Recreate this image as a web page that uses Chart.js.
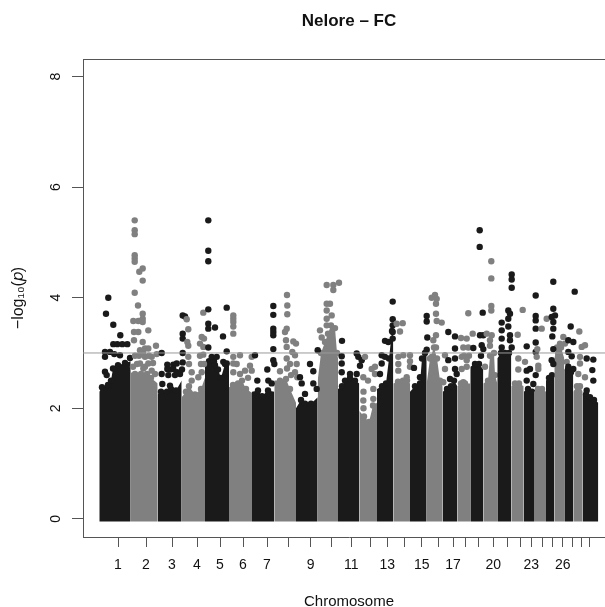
<!DOCTYPE html>
<html>
<head>
<meta charset="utf-8">
<title>Nelore - FC</title>
<script src="https://cdn.jsdelivr.net/npm/chart.js@4"></script>
<style>
html, body { margin: 0; padding: 0; background: #fff; overflow: hidden; }
canvas { display: block; }
</style>
</head>
<body>
<!-- the plot box runs past the right edge of the picture, so the canvas does too -->
<canvas id="manhattan" width="698" height="607"></canvas>
<script>
// x = position along the genome (axis units), y = -log10(p)
// bodyN = top edge of the solid mass of points of chromosome N, hitsN = the points standing above it
const body1 = [[16.3,2.3],[19,2.38],[25,2.42],[28,2.5],[30,2.72],[35,2.78],[42,2.82],[47.7,2.85]];
const hits1 = [[25.3,4],[23,3.71],[30.3,3.51],[37.3,3.32],[30.3,3.16],[34.3,3.16],[39.3,3.16],[44.3,3.16],[22,3.02],[27,3.02],[31.3,2.98],[22,2.93],[37,2.96],[22,2.66],[23.7,2.6],[47,2.91]];
const body2 = [[47.7,2.65],[52,2.62],[58,2.62],[64,2.62],[68,2.55],[74.7,2.45]];
const hits2 = [[51.7,5.4],[51.7,5.22],[51.7,5.15],[51.7,4.77],[51.7,4.71],[51.7,4.65],[59.7,4.53],[56.3,4.47],[59.7,4.31],[51.7,4.09],[55,3.86],[59.7,3.71],[59.7,3.62],[50.3,3.58],[55.3,3.58],[59.7,3.56],[65.3,3.41],[51,3.38],[55.3,3.38],[51,3.23],[59.7,3.2],[73,3.13],[57,3.05],[65.3,3.08],[62,2.93],[68.7,2.93],[73.7,2.98],[57,2.81],[65.3,2.81],[60.3,2.72],[68.7,2.68],[60,3],[52,2.95],[62,2.75],[54,2.8],[50,2.75],[56,2.95],[62,3.08],[70,2.82],[72,2.62],[66,2.95]];
const body3 = [[74.7,2.25],[78,2.3],[84,2.3],[88,2.35],[93,2.32],[98.7,2.5]];
const hits3 = [[78.7,3],[84.3,2.79],[90.3,2.79],[93.7,2.81],[84.3,2.71],[90.3,2.71],[78.7,2.62],[85.3,2.6],[92,2.6],[97,2.62],[79.3,2.44],[87,2.41],[99.7,3.68],[99.7,3.35],[99.7,3.26],[99.7,3],[99.7,2.83],[102,3.66],[87,2.7],[94,2.65],[99,2.7]];
const body4 = [[98.7,2.2],[103,2.3],[106,2.4],[112,2.25],[118,2.35],[122,2.55]];
const hits4 = [[103.7,3.61],[105.3,3.43],[104.3,3.2],[105.3,3.13],[118.7,3.29],[121,3.26],[117,3.17],[120.3,3.11],[117,2.95],[120.3,2.97],[105.3,2.93],[108.7,2.65],[118.7,2.65],[115.3,2.56],[108.7,2.5],[120.3,3.73],[106,2.8],[121,2.8],[118,2.8]];
const body5 = [[122,2.85],[126,2.85],[131,2.85],[135,2.7],[138,2.55],[142,2.8],[146,2.85]];
const hits5 = [[125.3,5.4],[125.3,4.85],[125.3,4.66],[125.3,3.79],[125.3,3.53],[125.3,3.44],[132,3.46],[143.7,3.82],[140,3.3],[125.3,3.1],[143.7,3.03],[128.7,2.93],[133.7,2.93],[140.3,2.84],[132,2.78],[143.7,2.81]];
const body6 = [[146,2.38],[150,2.42],[155,2.45],[159,2.5],[163,2.35],[169,2.28]];
const hits6 = [[150.3,3.68],[150.3,3.62],[150.3,3.56],[150.3,3.48],[150.3,3.35],[150.3,2.93],[150.3,2.81],[157,2.96],[168.7,2.93],[167,2.77],[168.7,2.68],[157,2.62],[153.7,2.8],[162,2.68],[150.3,2.65],[165,2.55]];
const body7 = [[169,2.3],[175,2.32],[179,2.22],[185,2.32],[191.3,2.3]];
const hits7 = [[190.3,3.85],[190.3,3.69],[190.3,3.44],[190.3,3.38],[190.3,3.32],[190.3,3.07],[190.3,2.87],[191.3,2.8],[184.3,2.7],[174.3,2.5],[185.3,2.5],[188.7,2.45],[172,2.96]];
const body8 = [[191.3,2.5],[197,2.5],[203,2.53],[207,2.35],[213,2.1]];
const hits8 = [[204,4.05],[204.3,3.86],[204.3,3.7],[203.7,3.44],[202,3.38],[203,3.23],[203.7,3.11],[210.3,3.21],[213,3.17],[209.3,3.02],[212,2.96],[203.7,2.9],[207,2.8],[197,2.67],[213.7,2.8],[212,2.65],[214.3,2.56],[204,2.72],[208,2.6]];
const body9 = [[213,2],[218,2.15],[222,2.08],[228,2.08],[234.7,2.2]];
const hits9 = [[227,2.8],[230.3,2.67],[217,2.56],[218.7,2.45],[230.3,2.45],[233.7,2.35],[222,2.26],[234.7,3.05]];
const body10 = [[234.7,2.5],[238,3],[242,3.2],[245,3.35],[248,3.5],[252,3.45],[254,3],[255,2.9]];
const hits10 = [[243.7,4.23],[243.7,3.89],[243.7,3.77],[243.7,3.62],[237,3.41],[238.7,3.28],[256,4.27],[250.3,4.23],[250.3,4.14],[247,3.89],[248.7,3.68],[243.7,3.5]];
const body11 = [[255,2.35],[259,2.4],[262,2.5],[267,2.55],[272,2.5],[276.3,2.45]];
const hits11 = [[259,3.22],[258.7,2.94],[258.7,2.81],[258.7,2.65],[273.7,2.99],[275.3,2.93],[278.7,2.87],[277,2.77],[267,2.62],[273.7,2.62]];
const body12 = [[276.3,1.95],[281,1.85],[286,1.75],[290,2.05],[294,2.1]];
const hits12 = [[282,2.93],[288.7,2.71],[292,2.75],[292,2.62],[280.3,2.56],[280.3,2.14],[290.3,2.17],[290.3,2.35],[280.5,2.3],[280.5,2],[285,2.5]];
const body13 = [[294,2.35],[299,2.4],[303,2.45],[306,2.9],[309,3.4],[310.3,3.4]];
const hits13 = [[309.7,3.93],[309.7,3.61],[309.7,3.5],[309.7,3.38],[309.7,3.26],[302,3.22],[305.3,3.2],[298.7,2.96],[302,2.93],[298.7,2.81],[297,2.62]];
const body14 = [[310.3,2.45],[315,2.48],[320,2.5],[324,2.5],[327,2.45]];
const hits14 = [[313.7,3.53],[319.7,3.54],[317,3.39],[315.3,2.93],[320.3,2.96],[327,2.96],[327,2.75],[315.3,2.68],[323.7,2.56],[315.3,2.8],[327,2.85]];
const body15 = [[327,2.3],[332,2.4],[337,2.45],[339,2.9],[342,3],[343.7,3]];
const hits15 = [[343.7,3.67],[343.7,3.57],[344.3,3.28],[343.7,3.06],[331,2.73],[337,2.56]];
const body16 = [[343.7,2.45],[347,2.9],[351,3.1],[354,2.9],[357,2.5],[359.7,2.4]];
const hits16 = [[352,4.05],[348.7,4],[353.7,3.98],[353,3.89],[353,3.71],[353.7,3.58],[358.7,3.55],[353,3.32],[350.3,3.23],[353,3.1],[348.7,2.93],[362,2.96],[362,2.71],[360.3,2.47]];
const body17 = [[359.7,2.3],[364,2.35],[368,2.4],[371,2.5],[374.3,2.4]];
const hits17 = [[365.3,3.38],[372,3.3],[372,3.08],[372,2.9],[365.3,2.87],[372,2.71],[373.7,2.62],[367,2.53]];
const body18 = [[374.3,2.4],[378,2.45],[382,2.45],[387.3,2.45]];
const hits18 = [[385.3,3.72],[378,3.27],[389.7,3.35],[383.7,3.26],[380.3,3.1],[385.3,3.1],[378.7,2.93],[383.7,2.87],[378.7,2.71],[383.7,2.75],[380.3,2.47],[381,2.95],[386,2.95]];
const body19 = [[387.3,2.75],[392,2.8],[396,2.8],[400.3,2.7]];
const hits19 = [[396.7,5.22],[396.7,4.92],[399.7,3.73],[397,3.32],[400.3,3.32],[390.3,3.09],[398.7,3.14],[400.3,3.07],[398,2.95]];
const body20 = [[400.3,2.45],[405,2.5],[407,2.95],[411,3],[412,2.6],[414.3,2.45]];
const hits20 = [[408.3,4.66],[408.3,4.35],[408.3,3.85],[408.3,3.77],[403.7,3.35],[408.7,3.32],[407,3.23],[407,3.13],[402,2.75]];
const body21 = [[414.3,2.9],[418,3],[422,3],[426,3],[428.3,2.95]];
const hits21 = [[428.7,4.42],[428.7,4.33],[428.7,4.18],[425.3,3.77],[427,3.71],[425.3,3.62],[418.7,3.55],[425.3,3.48],[418.7,3.41],[427,3.32],[418.7,3.26],[427,3.23],[418.7,3.1],[428.7,3.1]];
const body22 = [[428.3,2.4],[432,2.45],[436,2.45],[440.7,2.4]];
const hits22 = [[439.7,3.78],[434.7,3.33],[435.3,2.9],[442,2.84],[435.3,2.7]];
const body23 = [[440.7,2.3],[445,2.35],[449,2.3],[451,2.3]];
const hits23 = [[452.7,4.04],[452.7,3.67],[452.7,3.59],[452.7,3.44],[452.7,3.19],[452.7,3.02],[443.7,3.12],[447,2.71],[443.7,2.68],[452.7,2.6],[443.7,2.5],[450.3,2.44]];
const body24 = [[451,2.3],[455,2.35],[459,2.35],[463,2.3]];
const hits24 = [[463.7,3.62],[458.7,3.44],[454.3,3.07],[455.3,2.77],[455.3,2.71],[453.7,2.93]];
const body25 = [[463,2.5],[466,2.55],[469,2.6],[471.3,2.55]];
const hits25 = [[470.3,4.29],[470.3,3.8],[472,3.68],[468.7,3.65],[470.3,3.56],[470.3,3.44],[469.3,3.3],[470.3,3.07],[468.7,2.87],[470.3,2.8]];
const body26 = [[471.3,2.9],[474,3.1],[478,3.1],[481.3,2.9]];
const hits26 = [[480.3,3.29],[477,3.17],[482,3.17],[475.3,2.99],[483.7,2.84]];
const body27 = [[481.3,2.7],[485,2.7],[488,2.65],[490.3,2.6]];
const hits27 = [[491.7,4.11],[487.7,3.48],[485.3,3.23],[490.3,3.2],[485.3,3.02],[488.7,2.94],[485.3,2.75],[490.3,2.71]];
const body28 = [[490.3,2.3],[494,2.4],[497,2.4],[499.7,2.3]];
const hits28 = [[496.3,3.39],[502,3.14],[498.7,3.11],[497,2.93],[497,2.81],[502,2.56],[495.3,2.62]];
const body29 = [[499.7,2.25],[503,2.25],[507,2.2],[511,2.15],[515.3,2.1]];
const hits29 = [[503.7,2.9],[510.3,2.88],[509.3,2.69],[510.3,2.5],[503.7,2.32]];

const bodies = [body1,body2,body3,body4,body5,body6,body7,body8,body9,body10,body11,body12,body13,body14,body15,body16,body17,body18,body19,body20,body21,body22,body23,body24,body25,body26,body27,body28,body29];
const hits = [hits1,hits2,hits3,hits4,hits5,hits6,hits7,hits8,hits9,hits10,hits11,hits12,hits13,hits14,hits15,hits16,hits17,hits18,hits19,hits20,hits21,hits22,hits23,hits24,hits25,hits26,hits27,hits28,hits29];

const chromosomeTicks = [35,63,89,114,137,160,184,205.7,227.7,248,268.3,287.7,304.3,321.7,338.7,355,370,382.7,395.7,410.3,424.3,437.3,448.3,459.7,469.7,479.7,489.3,498.3,506.3];
const chromosomeLabels = ['1','2','3','4','5','6','7','','9','','11','','13','','15','','17','','','20','','','23','','','26','','',''];
const yTicks = [0,2,4,6,8];
const threshold = 3;

const DARK = '#1a1a1a';
const GREY = '#808080';
const FONT = '"Liberation Sans", Arial, sans-serif';
const X_MAX = 532;

function toPoints(list) {
    return list.map(p => ({ x: p[0], y: p[1] }));
}

const datasets = [];

// line across at the suggestive threshold, drawn over everything
datasets.push({
    type: 'line',
    data: [{ x: 0, y: threshold }, { x: X_MAX, y: threshold }],
    borderColor: '#9a9a9a',
    borderWidth: 1,
    pointRadius: 0,
    order: 0
});

bodies.forEach(function(body, i) {
    const colour = i % 2 === 0 ? DARK : GREY;
    const last = body.length - 1;
    // later chromosomes sit on top of earlier ones
    datasets.push({
        type: 'line',
        data: toPoints(body),
        borderWidth: 0,
        borderColor: colour,
        backgroundColor: colour,
        fill: { value: -0.05 },
        tension: 0,
        pointRadius: ctx => (ctx.dataIndex === 0 || ctx.dataIndex === last) ? 0 : 3.2,
        pointBorderWidth: 0,
        pointBackgroundColor: colour,
        order: 60 - i
    });
    datasets.push({
        type: 'scatter',
        data: toPoints(hits[i]),
        pointRadius: 3.2,
        pointBorderWidth: 0,
        backgroundColor: colour,
        pointBackgroundColor: colour,
        order: 30 - i
    });
});

// top edge of the box
const topLine = {
    id: 'topLine',
    beforeDatasetsDraw(chart) {
        const c = chart.ctx, a = chart.chartArea;
        c.save();
        c.strokeStyle = '#555';
        c.lineWidth = 1;
        c.beginPath();
        c.moveTo(a.left, a.top + 0.5);
        c.lineTo(a.right, a.top + 0.5);
        c.stroke();
        c.restore();
    }
};

new Chart(document.getElementById('manhattan').getContext('2d'), {
    type: 'scatter',
    data: { datasets: datasets },
    plugins: [topLine],
    options: {
        responsive: false,
        animation: false,
        layout: { padding: { right: 83 } },
        events: [],
        plugins: {
            legend: { display: false },
            tooltip: { enabled: false },
            title: {
                display: true,
                fullSize: false,
                text: 'Nelore \u2013 FC',
                color: '#111',
                font: { family: FONT, size: 17, weight: 'bold' },
                padding: { top: 11, bottom: 27.6 }
            }
        },
        scales: {
            x: {
                type: 'linear',
                min: 0,
                max: X_MAX,
                afterFit: s => { s.height = 70; s.paddingLeft = 0; s.paddingRight = 0; },
                afterBuildTicks: s => { s.ticks = chromosomeTicks.map(v => ({ value: v })); },
                grid: { display: true, drawOnChartArea: false, tickLength: 10, color: '#555' },
                border: { display: true, color: '#555' },
                ticks: {
                    autoSkip: false,
                    maxRotation: 0,
                    padding: 10,
                    color: '#111',
                    font: { family: FONT, size: 14 },
                    callback: function(value, index) { return chromosomeLabels[index]; }
                },
                title: {
                    display: true,
                    text: 'Chromosome',
                    color: '#111',
                    font: { family: FONT, size: 15 },
                    padding: { top: 0, bottom: -3.7 }
                }
            },
            y: {
                type: 'linear',
                min: -0.33,
                max: 8.32,
                afterFit: s => { s.width = 83; s.paddingTop = 0; s.paddingBottom = 0; },
                afterBuildTicks: s => { s.ticks = yTicks.map(v => ({ value: v })); },
                grid: { display: true, drawOnChartArea: false, tickLength: 11, color: '#555' },
                border: { display: true, color: '#555' },
                ticks: {
                    minRotation: 90,
                    maxRotation: 90,
                    crossAlign: 'center',
                    padding: 12,
                    color: '#111',
                    font: { family: FONT, size: 14 },
                    callback: value => String(value)
                },
                title: {
                    display: true,
                    text: '\u2212log\u2081\u2080(\ud835\udc5d)',
                    color: '#111',
                    font: { family: FONT, size: 16 },
                    padding: { top: 9, bottom: 0 }
                }
            }
        }
    }
});
</script>
</body>
</html>
